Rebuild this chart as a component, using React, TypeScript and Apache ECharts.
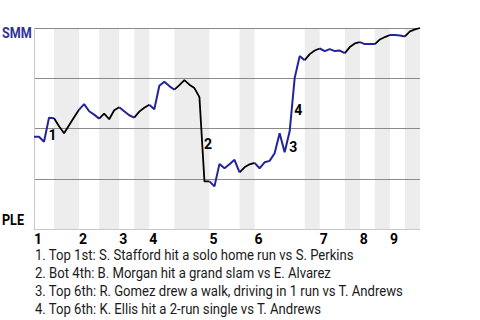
import { useEffect, useRef } from 'react';
import * as echarts from 'echarts';

// Win probability of SMM (%) after each play (play 0 = start of game)
const smmWinProb = [
  45.9, 45.9, 43.4, 55.4, 55.1, 51.1, 47.6, 51.6, 55.6, 59.4,
  62.1, 58.6, 56.9, 54.9, 57.4, 54.6, 59.1, 60.6, 58.6, 56.6,
  55.4, 58.4, 60.3, 61.8, 59.6, 71.3, 73.3, 71.1, 69.3, 71.6,
  74.1, 71.8, 70.1, 65.6, 23.7, 23.7, 21.2, 32.4, 30.2, 32.2,
  34.4, 28.2, 30.7, 32.2, 32.9, 30.2, 33.2, 33.9, 37.7, 47.6,
  38.2, 48.6, 75.1, 86.0, 84.0, 87.0, 88.8, 89.8, 88.5, 89.5,
  88.5, 88.8, 87.5, 90.5, 92.3, 93.0, 92.0, 92.0, 92.0, 94.3,
  95.5, 96.5, 96.5, 96.3, 95.8, 98.3, 99.3, 100,
];

// play index at which each half-inning ends (top 1st, bot 1st, top 2nd, ...)
const halfInningEnds = [4, 9, 13, 17, 20, 23, 28, 35, 41, 44, 54, 57, 62, 65, 68, 71, 74, 77];
const inningLabels = ['1', '2', '3', '4', '5', '6', '7', '8', '9'];

const eventLabels = ['1', '2', '3', '4'];
const eventPlays = [3, 34, 51, 52];
const eventNotes = [
  '1. Top 1st: S. Stafford hit a solo home run vs S. Perkins',
  '2. Bot 4th: B. Morgan hit a grand slam vs E. Alvarez',
  '3. Top 6th: R. Gomez drew a walk, driving in 1 run vs T. Andrews',
  '4. Top 6th: K. Ellis hit a 2-run single vs T. Andrews',
];

const awayTeam = 'SMM';
const homeTeam = 'PLE';

const FONT = "Roboto, 'Noto Sans', sans-serif";
const BLUE = '#23239b';

const halfStarts = [0, ...halfInningEnds.slice(0, -1)];
const inningStarts = halfStarts.filter((_, i) => i % 2 === 0);

function halfData(parity: number) {
  const data: any[] = smmWinProb.map((_, i) => [i, '-']);
  halfStarts.forEach((s, h) => {
    if (h % 2 !== parity) return;
    const e = halfInningEnds[h];
    for (let i = s; i <= e; i++) data[i] = [i, smmWinProb[i]];
  });
  return data;
}

export default function App() {
  const ref = useRef<HTMLDivElement>(null);
  useEffect(() => {
    document.body.style.margin = '0';
    const chart = echarts.init(ref.current!, undefined, { renderer: 'svg' });
    const bands = halfStarts
      .map((s, h) => ({ s, e: halfInningEnds[h], h }))
      .filter((b) => b.h % 2 === 1)
      .map((b) => [{ xAxis: b.s }, { xAxis: b.e }]);

    const marks = eventPlays.map((p, k) => ({
      coord: [p - 0.5, (smmWinProb[p - 1] + smmWinProb[p]) / 2],
      value: eventLabels[k],
    }));

    chart.setOption({
      animation: false,
      grid: { left: 34, top: 28, width: 386, height: 201 },
      xAxis: {
        type: 'value',
        min: 0,
        max: smmWinProb.length - 1,
        splitLine: { show: false },
        axisTick: { show: false },
        axisLine: { lineStyle: { color: '#c8c8c8', width: 1 } },
        axisLabel: {
          customValues: inningStarts,
          formatter: (v: number) => inningLabels[inningStarts.indexOf(v)] ?? '',
          align: 'left',
          margin: 3,
          color: '#000',
          fontWeight: 'bold',
          fontSize: 14,
          fontFamily: FONT,
        },
      },
      yAxis: {
        type: 'value',
        min: 0,
        max: 100,
        interval: 25,
        axisLabel: { show: false },
        axisTick: { show: false },
        axisLine: { show: true, lineStyle: { color: '#c8c8c8', width: 1 } },
        splitLine: {
          lineStyle: { color: ['#c8c8c8', '#8a8a8a', '#8a8a8a', '#8a8a8a', '#8a8a8a'], width: 1 },
        },
      },
      series: [
        {
          type: 'line',
          data: halfData(1),
          symbol: 'none',
          lineStyle: { color: '#000', width: 1.8 },
          markArea: {
            silent: true,
            z: -1,
            itemStyle: { color: '#ededed' },
            data: bands,
          },
          markPoint: {
            symbol: 'circle',
            symbolSize: 1,
            itemStyle: { color: 'rgba(0,0,0,0)' },
            label: {
              show: true,
              position: 'inside',
              offset: [6, 5],
              color: '#000',
              fontWeight: 'bold',
              fontSize: 14,
              fontFamily: FONT,
              formatter: (p: any) => p.value,
            },
            data: marks,
          },
        },
        {
          type: 'line',
          data: halfData(0),
          symbol: 'none',
          lineStyle: { color: BLUE, width: 2 },
        },
      ],
      graphic: [
        {
          type: 'text',
          x: 2,
          y: 33,
          scaleX: 0.84,
          style: { text: awayTeam, fill: '#30309a', font: `bold 15px ${FONT}`, verticalAlign: 'middle' },
        },
        {
          type: 'text',
          x: 2,
          y: 219.5,
          scaleX: 0.84,
          style: { text: homeTeam, fill: '#000', font: `bold 15px ${FONT}`, verticalAlign: 'middle' },
        },
        ...eventNotes.map((t, i) => ({
          type: 'text',
          x: 35,
          y: 254.5 + i * 18.2,
          scaleX: 0.875,
          style: { text: t, fill: '#1a1a1a', font: `15px ${FONT}`, verticalAlign: 'middle' },
        })),
      ],
    });
    return () => chart.dispose();
  }, []);
  return <div ref={ref} style={{ width: 480, height: 320 }} />;
}
